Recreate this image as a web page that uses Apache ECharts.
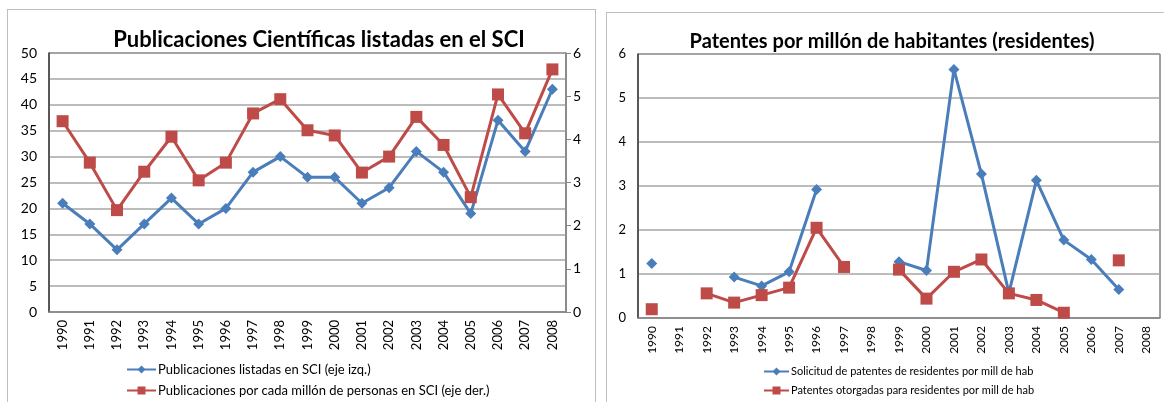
<!DOCTYPE html>
<html><head><meta charset="utf-8">
<script src="https://cdn.jsdelivr.net/npm/echarts@6/dist/echarts.min.js"></script>
<style>
html,body{margin:0;padding:0;background:#fff;width:1164px;height:402px;overflow:hidden;}
#c1{position:absolute;left:7px;top:9px;width:589px;height:400px;border:1px solid #bfbfbf;box-sizing:border-box;}
#c2{position:absolute;left:606px;top:12px;width:570px;height:400px;border:1px solid #bfbfbf;box-sizing:border-box;}
</style></head><body>
<div id="c1"></div><div id="c2"></div>
<script>
const years = ['1990','1991','1992','1993','1994','1995','1996','1997','1998','1999','2000','2001','2002','2003','2004','2005','2006','2007','2008'];
const pubSCI = [21,17,12,17,22,17,20,27,30,26,26,21,24,31,27,19,37,31,43];
const pubPerMillion = [4.42,3.46,2.36,3.25,4.06,3.05,3.46,4.6,4.93,4.21,4.09,3.23,3.6,4.52,3.87,2.66,5.04,4.14,5.62];
const patSolicitud = [1.24,null,null,0.93,0.73,1.05,2.92,null,null,1.28,1.08,5.65,3.27,0.57,3.13,1.77,1.33,0.65,null];
const patOtorgadas = [0.2,null,0.56,0.35,0.52,0.69,2.05,1.16,null,1.1,0.44,1.05,1.33,0.56,0.41,0.12,null,1.31,null];
const leftTicks = [0,5,10,15,20,25,30,35,40,45,50];
const rightTicks = [0,1,2,3,4,5,6];

const FONT = 'Lato,"Liberation Sans",sans-serif';
const BLUE = '#4a7ebb', RED = '#be4b48';

const c1 = echarts.init(document.getElementById('c1'));
c1.setOption({
  animation:false,
  textStyle:{fontFamily:FONT},
  title:{text:'Publicaciones Científicas listadas en el SCI',left:306,textAlign:'center',top:14,
    textStyle:{fontFamily:FONT,fontWeight:'bold',fontSize:22,color:'#000'}},
  legend:{orient:'vertical',left:113,top:348,itemWidth:29,itemHeight:10,itemGap:8,
    textStyle:{fontFamily:FONT,fontSize:13,color:'#000',padding:[0,0,0,-3]},
    data:['Publicaciones listadas en SCI (eje izq.)','Publicaciones por cada millón de personas en SCI (eje der.)']},
  grid:{left:41,top:43,width:517,height:259,show:true,borderColor:'#404040',borderWidth:1},
  xAxis:{type:'category',data:years,boundaryGap:true,
    axisLine:{lineStyle:{color:'#868686',width:1.5}},axisTick:{show:false},
    axisLabel:{rotate:90,fontFamily:FONT,fontSize:13,color:'#000',margin:8}},
  yAxis:[
    {type:'value',min:leftTicks[0],max:leftTicks[leftTicks.length-1],interval:5,
     axisLine:{show:true,lineStyle:{color:'#404040',width:1.5}},axisTick:{show:false},
     axisLabel:{fontFamily:FONT,fontSize:14,color:'#000',margin:12},
     splitLine:{lineStyle:{color:'#a6a6a6',width:1.5}}},
    {type:'value',min:rightTicks[0],max:rightTicks[rightTicks.length-1],interval:1,position:'right',
     axisLine:{show:true,lineStyle:{color:'#868686',width:1.5}},axisTick:{show:true,length:5,lineStyle:{color:'#868686'}},
     axisLabel:{fontFamily:FONT,fontSize:14,color:'#000',margin:7},
     splitLine:{show:false}}
  ],
  series:[
    {name:'Publicaciones listadas en SCI (eje izq.)',type:'line',yAxisIndex:0,data:pubSCI,
     symbol:'diamond',symbolSize:11,showAllSymbol:true,
     lineStyle:{color:BLUE,width:3},itemStyle:{color:BLUE}},
    {name:'Publicaciones por cada millón de personas en SCI (eje der.)',type:'line',yAxisIndex:1,data:pubPerMillion,
     symbol:'rect',symbolSize:12,showAllSymbol:true,
     lineStyle:{color:RED,width:3},itemStyle:{color:RED}}
  ]
});

const c2 = echarts.init(document.getElementById('c2'));
c2.setOption({
  animation:false,
  textStyle:{fontFamily:FONT},
  title:{text:'Patentes por millón de habitantes (residentes)',left:280,textAlign:'center',top:14,
    textStyle:{fontFamily:FONT,fontWeight:'bold',fontSize:20,color:'#000'}},
  legend:{orient:'vertical',left:151,top:348,itemWidth:25,itemHeight:10,itemGap:8,
    textStyle:{fontFamily:FONT,fontSize:11,color:'#000',padding:[0,0,0,-3]},
    data:['Solicitud de patentes de residentes por mill de hab','Patentes otorgadas para residentes por mill de hab']},
  grid:{left:31,top:41,width:522,height:264,show:true,borderColor:'#404040',borderWidth:1},
  xAxis:{type:'category',data:years,boundaryGap:true,
    axisLine:{lineStyle:{color:'#868686',width:1.5}},axisTick:{show:false},
    axisLabel:{rotate:90,fontFamily:FONT,fontSize:12,color:'#000',margin:8}},
  yAxis:{type:'value',min:rightTicks[0],max:rightTicks[rightTicks.length-1],interval:1,
     axisLine:{show:true,lineStyle:{color:'#404040',width:1.5}},axisTick:{show:false},
     axisLabel:{fontFamily:FONT,fontSize:13,color:'#000',margin:12},
     splitLine:{lineStyle:{color:'#a6a6a6',width:1.5}}},
  series:[
    {name:'Solicitud de patentes de residentes por mill de hab',type:'line',data:patSolicitud,connectNulls:false,
     symbol:'diamond',symbolSize:11,showAllSymbol:true,
     lineStyle:{color:BLUE,width:3},itemStyle:{color:BLUE}},
    {name:'Patentes otorgadas para residentes por mill de hab',type:'line',data:patOtorgadas,connectNulls:false,
     symbol:'rect',symbolSize:12,showAllSymbol:true,
     lineStyle:{color:RED,width:3},itemStyle:{color:RED}}
  ]
});
</script>
</body></html>
